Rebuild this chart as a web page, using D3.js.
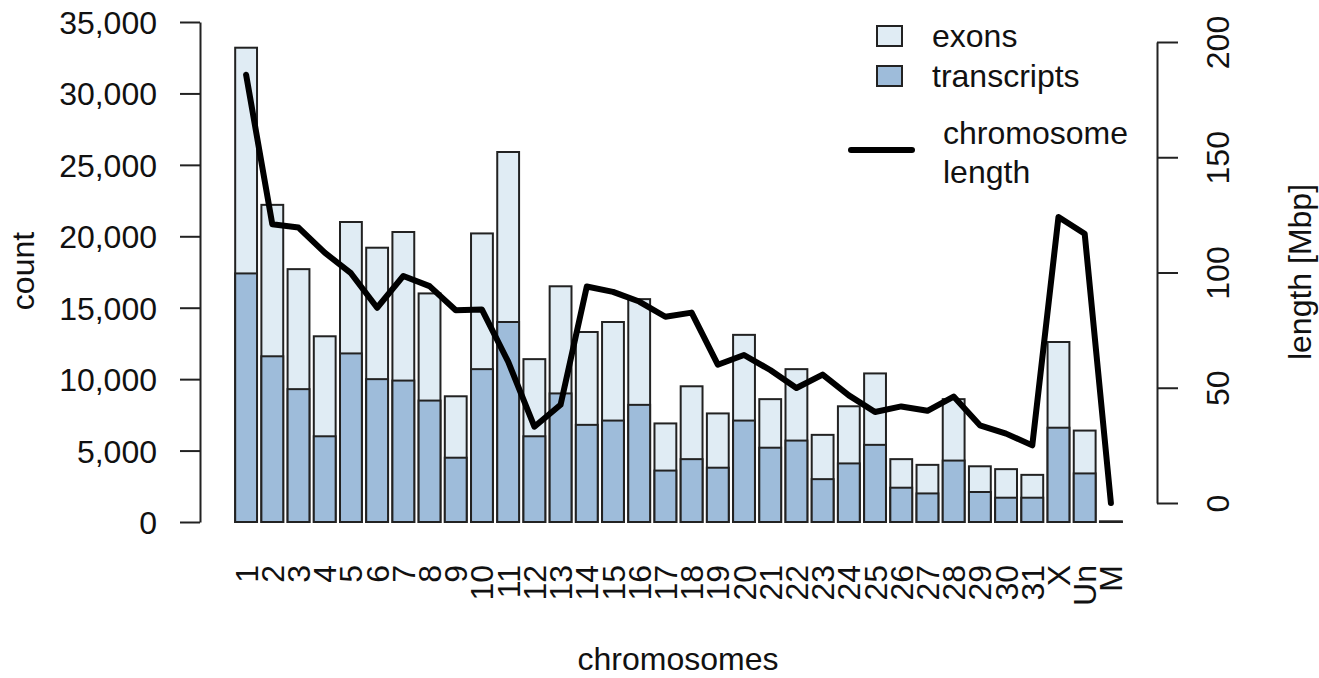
<!DOCTYPE html>
<html>
<head>
<meta charset="utf-8">
<script src="https://cdn.jsdelivr.net/npm/d3@7"></script>
<style>
  body { margin: 0; background: #fff; }
  svg text { font-family: "Liberation Sans", Arial, sans-serif; fill: #111; }
</style>
</head>
<body>
<div id="chart"></div>
<script>
    const width = 1319, height = 678;

    // chromosomes and values
    const chromosomes = ["1","2","3","4","5","6","7","8","9","10","11","12","13","14","15","16",
        "17","18","19","20","21","22","23","24","25","26","27","28","29","30","31","X","Un","M"];
    const exons = [33200, 22200, 17700, 13000, 21000, 19200, 20300, 16000, 8800, 20200, 25900,
        11400, 16500, 13300, 14000, 15600, 6900, 9500, 7600, 13100, 8600, 10700, 6100, 8100,
        10400, 4400, 4000, 8600, 3900, 3700, 3300, 12600, 6400, 40];
    const transcripts = [17400, 11600, 9300, 6000, 11800, 10000, 9900, 8500, 4500, 10700, 14000,
        6000, 9000, 6800, 7100, 8200, 3600, 4400, 3800, 7100, 5200, 5700, 3000, 4100,
        5400, 2400, 2000, 4300, 2100, 1700, 1700, 6600, 3400, 20];
    const lengthMbp = [185.8, 120.9, 119.5, 108.6, 99.7, 84.7, 98.5, 94.1, 83.6, 83.9, 61.3,
        33.1, 42.6, 93.9, 91.6, 87.4, 80.8, 82.6, 60.0, 64.2, 57.7, 49.9, 55.7, 46.7,
        39.5, 41.9, 40.0, 46.2, 33.7, 30.1, 25.0, 124.1, 116.8, 0.02];
    const countTicks = [0, 5000, 10000, 15000, 20000, 25000, 30000, 35000];
    const lengthTicks = [0, 50, 100, 150, 200];

    const colExons = "#E0ECF4", colTranscripts = "#9EBCDA", edge = "#222";
    const fs = 32;

    const svg = d3.select("#chart")
        .append("svg")
        .attr("width", width)
        .attr("height", height);

    const x = d3.scaleBand()
        .domain(chromosomes)
        .range([233, 1124])
        .paddingInner(1 / 6)
        .paddingOuter(1 / 12);
    const yCount = d3.scaleLinear().domain([0, 35000]).range([522, 22]);
    const yLen = d3.scaleLinear().domain([0, 200]).range([503, 42]);

    // bars: exons behind, transcripts on top, both from zero
    svg.append("g").selectAll("rect")
        .data(chromosomes)
        .join("rect")
        .attr("x", (d, i) => x(d))
        .attr("width", x.bandwidth())
        .attr("y", (d, i) => yCount(exons[i]))
        .attr("height", (d, i) => yCount(0) - yCount(exons[i]))
        .attr("fill", colExons)
        .attr("stroke", edge)
        .attr("stroke-width", 2);

    svg.append("g").selectAll("rect")
        .data(chromosomes)
        .join("rect")
        .attr("x", (d, i) => x(d))
        .attr("width", x.bandwidth())
        .attr("y", (d, i) => yCount(transcripts[i]))
        .attr("height", (d, i) => yCount(0) - yCount(transcripts[i]))
        .attr("fill", colTranscripts)
        .attr("stroke", edge)
        .attr("stroke-width", 2);

    // chromosome length line on the right axis
    const line = d3.line()
        .x((d, i) => x(chromosomes[i]) + x.bandwidth() / 2)
        .y(d => yLen(d));
    svg.append("path")
        .datum(lengthMbp)
        .attr("d", line)
        .attr("fill", "none")
        .attr("stroke", "#000")
        .attr("stroke-width", 6)
        .attr("stroke-linejoin", "round")
        .attr("stroke-linecap", "round");

    // left axis
    const axL = svg.append("g")
        .attr("transform", "translate(200,0)")
        .call(d3.axisLeft(yCount).tickValues(countTicks).tickFormat(d3.format(","))
            .tickSize(20).tickSizeOuter(0).tickPadding(23));
    axL.selectAll("line, path").attr("stroke", edge).attr("stroke-width", 2);
    axL.selectAll("text")
        .attr("font-size", fs)
        .attr("font-family", "Liberation Sans, Arial, sans-serif")
        .attr("fill", "#111")
        .attr("dy", "0.36em");

    // right axis, labels parallel to the axis
    const axR = svg.append("g")
        .attr("transform", "translate(1157,0)")
        .call(d3.axisRight(yLen).tickValues(lengthTicks).tickSize(21).tickSizeOuter(0));
    axR.selectAll("line, path").attr("stroke", edge).attr("stroke-width", 2);
    axR.selectAll("text")
        .attr("x", 0)
        .attr("dy", 0)
        .attr("transform", "translate(72,0) rotate(-90)")
        .attr("text-anchor", "middle")
        .attr("font-size", fs)
        .attr("font-family", "Liberation Sans, Arial, sans-serif")
        .attr("fill", "#111");

    // x category labels, perpendicular
    svg.append("g").selectAll("text")
        .data(chromosomes)
        .join("text")
        .attr("transform", d => `translate(${x(d) + x.bandwidth() / 2 + fs * 0.36},565) rotate(-90)`)
        .attr("text-anchor", "end")
        .attr("font-size", fs)
        .text(d => d);

    // axis titles
    svg.append("text")
        .attr("transform", "translate(34,271) rotate(-90)")
        .attr("text-anchor", "middle")
        .attr("font-size", fs)
        .text("count");
    svg.append("text")
        .attr("x", 678).attr("y", 670)
        .attr("text-anchor", "middle")
        .attr("font-size", fs)
        .text("chromosomes");
    svg.append("text")
        .attr("transform", "translate(1311,272) rotate(-90)")
        .attr("text-anchor", "middle")
        .attr("font-size", fs)
        .text("length [Mbp]");

    // legend
    const legendItems = [["exons", colExons], ["transcripts", colTranscripts]];
    const lg = svg.append("g");
    lg.selectAll("rect")
        .data(legendItems)
        .join("rect")
        .attr("x", 877)
        .attr("y", (d, i) => 26 + i * 40)
        .attr("width", 25)
        .attr("height", 20)
        .attr("fill", d => d[1])
        .attr("stroke", edge)
        .attr("stroke-width", 2);
    lg.selectAll("text.item")
        .data(legendItems)
        .join("text")
        .attr("class", "item")
        .attr("x", 932)
        .attr("y", (d, i) => 47 + i * 40)
        .attr("font-size", fs)
        .text(d => d[0]);
    lg.append("line")
        .attr("x1", 851).attr("x2", 912)
        .attr("y1", 150).attr("y2", 150)
        .attr("stroke", "#000")
        .attr("stroke-width", 6)
        .attr("stroke-linecap", "round");
    lg.append("text")
        .attr("x", 943).attr("y", 144)
        .attr("font-size", fs)
        .text("chromosome");
    lg.append("text")
        .attr("x", 943).attr("y", 183)
        .attr("font-size", fs)
        .text("length");
</script>
</body>
</html>
